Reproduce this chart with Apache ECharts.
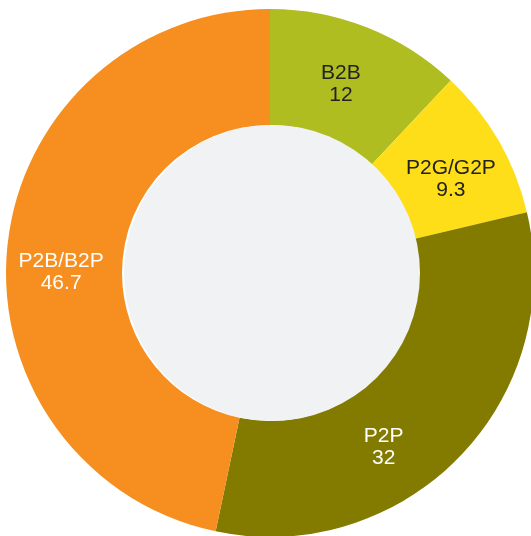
<!DOCTYPE html>
<html>
<head>
<meta charset="utf-8">
<script src="https://cdn.jsdelivr.net/npm/echarts@6/dist/echarts.min.js"></script>
<style>
  html, body { margin: 0; padding: 0; background: #fff; }
  #main { width: 531px; height: 536px; }
</style>
</head>
<body>
<div id="main"></div>
<script>
    // 分类与数值
    var categories = ['B2B', 'P2G/G2P', 'P2P', 'P2B/B2P'];
    var values = [12, 9.3, 32, 46.7];
    var colors = ['#afbd21', '#fedd19', '#837b00', '#f68f1f'];
    var textColors = ['#222222', '#222222', '#ffffff', '#ffffff'];
    // 标签微调偏移
    var labelShift = [[-6, 6], [0, 11], [-36, 28], [-1, 21]];

    var myChart = echarts.init(document.getElementById('main'));

    var pieData = [];
    for (var i = 0; i < categories.length; i++) {
        pieData.push({
            name: categories[i],
            value: values[i],
            itemStyle: { color: colors[i] },
            label: { color: textColors[i] }
        });
    }

    option = {
        animation: false,
        series: [{
            type: 'pie',
            center: [270, 273],
            radius: [148, 264],
            startAngle: 90,
            clockwise: true,
            silent: true,
            itemStyle: { borderWidth: 0 },
            label: {
                show: true,
                position: 'inside',
                formatter: '{b}\n{c}',
                fontFamily: 'Liberation Sans, Arial, sans-serif',
                fontSize: 21,
                lineHeight: 22
            },
            labelLine: { show: false },
            labelLayout: function (params) {
                var s = labelShift[params.dataIndex];
                return { dx: s[0], dy: s[1] };
            },
            data: pieData
        }, {
            // 中间的灰色圆
            type: 'pie',
            center: [272, 273],
            radius: [0, 148],
            silent: true,
            label: { show: false },
            labelLine: { show: false },
            itemStyle: { color: '#f1f2f4' },
            data: [{ name: 'hole', value: 1 }]
        }]
    };
    myChart.setOption(option);
</script>
</body>
</html>
